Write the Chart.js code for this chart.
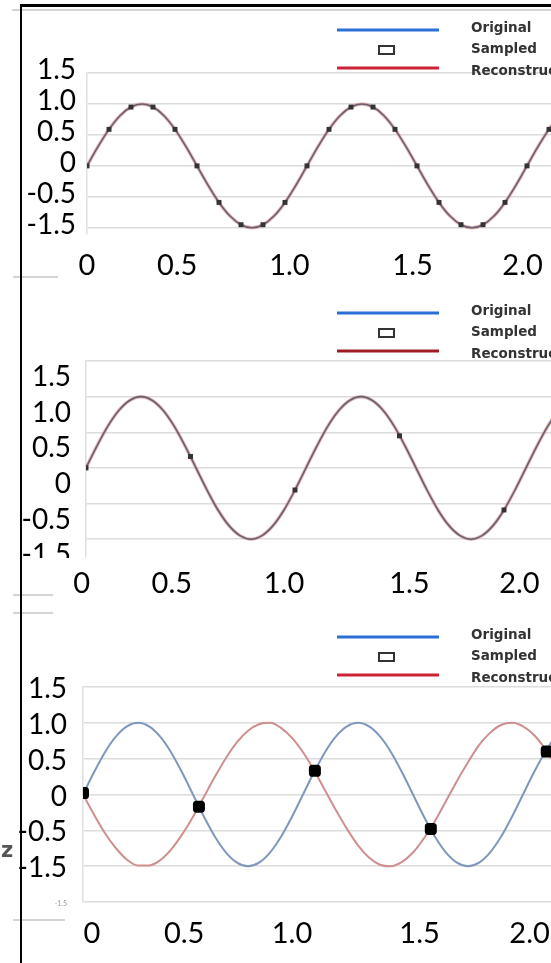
<!DOCTYPE html>
<html>
<head>
<meta charset="utf-8">
<script src="https://cdn.jsdelivr.net/npm/chart.js@4.4.1/dist/chart.umd.min.js"></script>
<style>
  html, body { margin: 0; padding: 0; background: #fff; width: 551px; height: 963px; overflow: hidden; position: relative; }
  canvas { position: absolute; left: 0; }
  .frameL { position: absolute; left: 20px; top: 4px; width: 2px; height: 959px; background: #000; }
  .frameT { position: absolute; left: 20px; top: 4px; width: 531px; height: 3px; background: #000; }
  .stub { position: absolute; height: 2px; background: #d4d4d4; }
  .mask { position: absolute; background: #fff; }
  .zed { position: absolute; left: 1px; top: 838px; font: bold 21px "DejaVu Sans", sans-serif; color: #555; }
</style>
</head>
<body>
<canvas id="c1" width="680" height="290" style="top:0"></canvas>
<canvas id="c2" width="680" height="310" style="top:290px"></canvas>
<canvas id="c3" width="680" height="363" style="top:600px"></canvas>

<div class="stub" style="left:12px; top:9px; width:539px;"></div>
<div class="stub" style="left:13px; top:276px; width:45px;"></div>
<div class="stub" style="left:13px; top:594px; width:40px;"></div>
<div class="stub" style="left:13px; top:612px; width:40px;"></div>
<div class="stub" style="left:13px; top:919px; width:52px;"></div>
<div class="mask" style="left:23px; top:237px; width:60px; height:13px;"></div>
<div class="mask" style="left:23px; top:558px; width:60px; height:10px;"></div>
<div class="frameL"></div>
<div class="frameT"></div>
<div class="zed">z</div>

<script>
// --- DATA ---
const legendLabels = ['Original', 'Sampled', 'Reconstructed'];

// x tick labels, and where each typed label sits on the time axis (per panel)
const xTickLabels = ['0', '0.5', '1.0', '1.5', '2.0'];
const xLabelAt1 = [0, 0.41, 0.92, 1.48, 1.98];
const xLabelAt2 = [-0.02, 0.39, 0.9, 1.47, 1.97];
const xLabelAt3 = [0.04, 0.46, 0.95, 1.53, 2.03];

// y ticks (bottom -> top) and the labels typed next to them
const yTickValues = [-1, -0.5, 0, 0.5, 1, 1.5];
const yTickLabels = ['-1.5', '-0.5', '0', '0.5', '1.0', '1.5'];
const yTickValues3 = [-1.5, -1, -0.5, 0, 0.5, 1, 1.5];
const yTickLabels3 = ['-1.5', '-1.5', '-0.5', '0', '0.5', '1.0', '1.5'];

// time axis of the smooth curves
const tFine = [0, 0.05, 0.1, 0.15, 0.2, 0.25, 0.3, 0.35, 0.4, 0.45, 0.5, 0.55, 0.6, 0.65, 0.7, 0.75, 0.8, 0.85, 0.9, 0.95,
  1, 1.05, 1.1, 1.15, 1.2, 1.25, 1.3, 1.35, 1.4, 1.45, 1.5, 1.55, 1.6, 1.65, 1.7, 1.75, 1.8, 1.85, 1.9, 1.95,
  2, 2.05, 2.1, 2.15, 2.2, 2.25, 2.3];

// original signal (same in all three panels)
const original = [0, 0.31, 0.59, 0.81, 0.95, 1, 0.95, 0.81, 0.59, 0.31, 0, -0.31, -0.59, -0.81, -0.95, -1, -0.95, -0.81, -0.59, -0.31,
  0, 0.31, 0.59, 0.81, 0.95, 1, 0.95, 0.81, 0.59, 0.31, 0, -0.31, -0.59, -0.81, -0.95, -1, -0.95, -0.81, -0.59, -0.31,
  0, 0.31, 0.59, 0.81, 0.95, 1, 0.95];

// panels 1 and 2: reconstruction lies on the original
const reconstructed1 = [0, 0.31, 0.59, 0.81, 0.95, 1, 0.95, 0.81, 0.59, 0.31, 0, -0.31, -0.59, -0.81, -0.95, -1, -0.95, -0.81, -0.59, -0.31,
  0, 0.31, 0.59, 0.81, 0.95, 1, 0.95, 0.81, 0.59, 0.31, 0, -0.31, -0.59, -0.81, -0.95, -1, -0.95, -0.81, -0.59, -0.31,
  0, 0.31, 0.59, 0.81, 0.95, 1, 0.95];
const reconstructed2 = reconstructed1;

// panel 3: aliased reconstruction
const reconstructed3 = [0, -0.28, -0.54, -0.75, -0.91, -0.99, -0.99, -0.92, -0.77, -0.56, -0.31, -0.03, 0.25, 0.51, 0.73, 0.89, 0.98, 1, 0.93, 0.79,
  0.59, 0.34, 0.06, -0.22, -0.48, -0.71, -0.88, -0.98, -1, -0.94, -0.81, -0.61, -0.37, -0.09, 0.19, 0.45, 0.69, 0.86, 0.97, 1,
  0.95, 0.83, 0.64, 0.4, 0.13, -0.16, -0.43];

// sampled points
const sampleT1 = [0, 0.1, 0.2, 0.3, 0.4, 0.5, 0.6, 0.7, 0.8, 0.9, 1, 1.1, 1.2, 1.3, 1.4, 1.5, 1.6, 1.7, 1.8, 1.9, 2, 2.1, 2.2, 2.3];
const sampleV1 = [0, 0.59, 0.95, 0.95, 0.59, 0, -0.59, -0.95, -0.95, -0.59, 0, 0.59, 0.95, 0.95, 0.59, 0, -0.59, -0.95, -0.95, -0.59, 0, 0.59, 0.95, 0.95];
const sampleT2 = [0, 0.475, 0.95, 1.425, 1.9];
const sampleV2 = [0, 0.16, -0.31, 0.45, -0.59];
const sampleT3 = [0, 0.527, 1.054, 1.581, 2.108];
const sampleV3 = [0.02, -0.17, 0.33, -0.48, 0.6];

// --- HELPERS ---
const pts = (xs, ys) => xs.map((x, i) => ({ x: x, y: ys[i] }));

const sideLegend = {
  id: 'sideLegend',
  afterDatasetsDraw(chart, args, o) {
    const ctx = chart.ctx;
    ctx.save();
    legendLabels.forEach((txt, i) => {
      const y = o.top + i * 19;
      if (i === 1) {
        ctx.fillStyle = '#fff';
        ctx.strokeStyle = '#333';
        ctx.lineWidth = 2;
        ctx.fillRect(379, y - 3, 15, 8);
        ctx.strokeRect(379, y - 3, 15, 8);
      } else {
        ctx.strokeStyle = o.colors[i];
        ctx.lineWidth = 3;
        ctx.beginPath();
        ctx.moveTo(337, y);
        ctx.lineTo(439, y);
        ctx.stroke();
      }
      ctx.fillStyle = '#333';
      ctx.font = 'bold 13.5px "DejaVu Sans", sans-serif';
      ctx.textBaseline = 'middle';
      ctx.fillText(txt, 471, o.top - 2 + i * 21.5);
    });
    ctx.restore();
  }
};

function makePanel(id, p) {
  const ctx = document.getElementById(id).getContext('2d');
  return new Chart(ctx, {
    type: 'scatter',
    data: {
      datasets: [
        { label: 'Sampled', data: pts(p.sampleT, p.sampleV), showLine: false, order: 0,
          pointStyle: p.pointStyle, pointRadius: p.pointRadius, backgroundColor: p.pointColor, borderWidth: 0 },
        { label: 'Original', data: pts(tFine, original), showLine: true, pointRadius: 0, order: p.origOrder,
          borderColor: p.origColor, borderWidth: p.origWidth, cubicInterpolationMode: 'monotone' },
        { label: 'Reconstructed', data: pts(tFine, p.recon), showLine: true, pointRadius: 0, order: p.reconOrder,
          borderColor: p.reconColor, borderWidth: p.reconWidth, cubicInterpolationMode: 'monotone' }
      ]
    },
    options: {
      responsive: false,
      animation: false,
      layout: { padding: { left: 0, top: p.top, right: p.right, bottom: 0 } },
      plugins: {
        legend: { display: false },
        tooltip: { enabled: false },
        sideLegend: { top: p.legendTop, colors: p.legendColors }
      },
      scales: {
        x: {
          type: 'linear', min: 0, max: 2.5,
          afterBuildTicks: s => { s.ticks = p.xLabelAt.map(v => ({ value: v })); },
          afterFit: s => { s.height = p.xh; },
          grid: { display: false, drawTicks: false },
          border: { display: false },
          ticks: {
            autoSkip: false, maxRotation: 0, padding: p.xPad, color: '#000',
            font: { family: 'Lato', size: 29 },
            callback: (v, i) => xTickLabels[i]
          }
        },
        y: {
          min: p.yMin, max: 1.5,
          afterBuildTicks: s => { s.ticks = p.yTicks.map(v => ({ value: v })); },
          afterFit: s => { s.width = p.left; },
          grid: { color: '#dcdcdc', lineWidth: 1.5, drawTicks: false },
          border: { color: '#e0e0e0', width: 1.5 },
          ticks: {
            autoSkip: false, padding: p.yPad, labelOffset: p.yOff,
            color: c => (c.tick && c.tick.value === -1.5) ? '#999' : '#000',
            font: c => (c.tick && c.tick.value === -1.5) ? { family: 'Lato', size: 7 } : { family: 'Lato', size: 28 },
            callback: v => p.yLabels[p.yTicks.indexOf(v)]
          }
        }
      }
    },
    plugins: [sideLegend]
  });
}

makePanel('c1', {
  top: 73, right: 43, left: 87, xh: 56, xPad: 14, yPad: 11, yOff: -3, yMin: -1.1,
  yTicks: yTickValues, yLabels: yTickLabels, xLabelAt: xLabelAt1,
  sampleT: sampleT1, sampleV: sampleV1, pointStyle: 'rect', pointRadius: 3.5, pointColor: '#333',
  recon: reconstructed1,
  origColor: 'rgba(95,90,110,0.95)', origWidth: 1.6, origOrder: 1,
  reconColor: 'rgba(215,130,130,0.55)', reconWidth: 3.5, reconOrder: 2,
  legendTop: 30, legendColors: ['#2a6fd6', null, '#cc2236']
});

makePanel('c2', {
  top: 71, right: 44, left: 86, xh: 43, xPad: 9, yPad: 15, yOff: 16, yMin: -1.25,
  yTicks: yTickValues, yLabels: yTickLabels, xLabelAt: xLabelAt2,
  sampleT: sampleT2, sampleV: sampleV2, pointStyle: 'rect', pointRadius: 3.5, pointColor: '#333',
  recon: reconstructed2,
  origColor: 'rgba(95,90,110,0.95)', origWidth: 1.6, origOrder: 1,
  reconColor: 'rgba(215,130,130,0.55)', reconWidth: 3.5, reconOrder: 2,
  legendTop: 23, legendColors: ['#2a6fd6', null, '#9e1c22']
});

makePanel('c3', {
  top: 87, right: 47, left: 83, xh: 61, xPad: 14, yPad: 16, yOff: 2, yMin: -1.5,
  yTicks: yTickValues3, yLabels: yTickLabels3, xLabelAt: xLabelAt3,
  sampleT: sampleT3, sampleV: sampleV3, pointStyle: 'rectRounded', pointRadius: 7, pointColor: '#000',
  recon: reconstructed3,
  origColor: '#7f97bd', origWidth: 2, origOrder: 1,
  reconColor: '#d08e8e', reconWidth: 2, reconOrder: 2,
  legendTop: 37, legendColors: ['#2a6fd6', null, '#cc2236']
});
</script>
</body>
</html>
